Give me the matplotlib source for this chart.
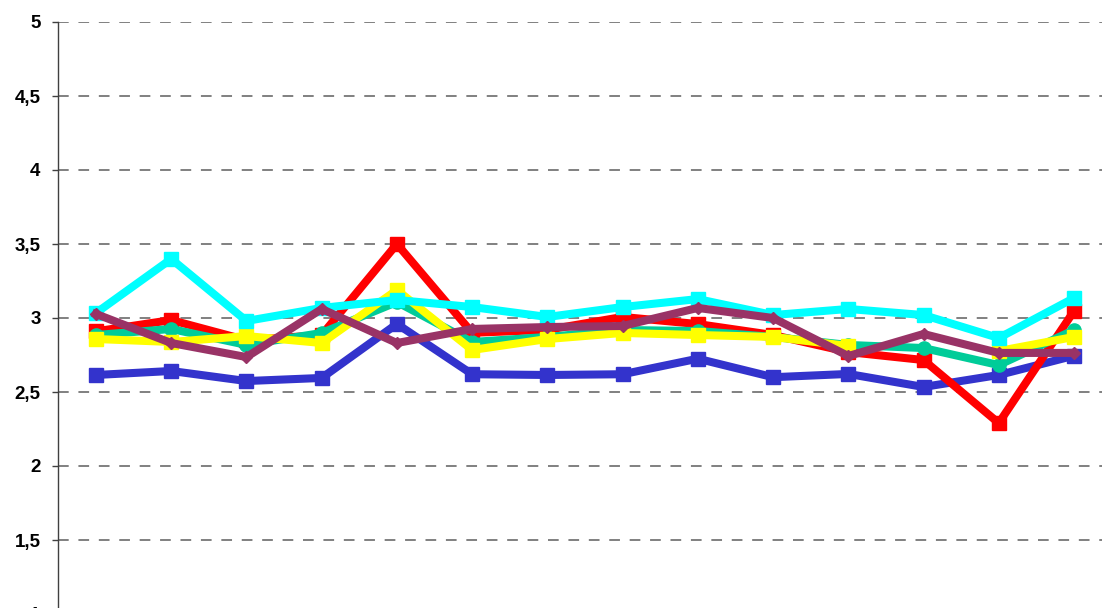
import numpy as np
import matplotlib
matplotlib.use("Agg")
import matplotlib.pyplot as plt

plt.rcParams['font.family'] = ['Liberation Sans', 'DejaVu Sans']

categories = list(range(14))
blue = [2.615, 2.642, 2.574, 2.595, 2.96, 2.62, 2.615, 2.62, 2.725, 2.6, 2.622, 2.534, 2.615, 2.745]
red = [2.91, 2.986, 2.85, 2.885, 3.5, 2.9, 2.92, 3.007, 2.959, 2.885, 2.77, 2.716, 2.29, 3.047]
green = [2.885, 2.926, 2.818, 2.899, 3.108, 2.838, 2.872, 2.919, 2.912, 2.872, 2.818, 2.797, 2.682, 2.919]
yellow = [2.858, 2.838, 2.878, 2.831, 3.189, 2.784, 2.858, 2.899, 2.885, 2.872, 2.811, np.nan, 2.777, 2.872]
cyan = [3.034, 3.399, 2.98, 3.068, 3.122, 3.074, 3.007, 3.074, 3.128, 3.02, 3.061, 3.02, 2.865, 3.135]
purple = [3.027, 2.831, 2.736, 3.061, 2.831, 2.926, 2.939, 2.946, 3.068, 3.0, 2.743, 2.892, 2.764, 2.764]

yticks = [1, 1.5, 2, 2.5, 3, 3.5, 4, 4.5, 5]
ytick_labels = ["1", "1,5", "2", "2,5", "3", "3,5", "4", "4,5", "5"]

fig = plt.figure(figsize=(11.02, 6.08), dpi=100)
W, H = 1102, 608
left_px, right_px = 58.4, 1111.6
top_px, bot_px = 22, 614
ax = fig.add_axes([left_px / W, (H - bot_px) / H, (right_px - left_px) / W, (bot_px - top_px) / H])

series = [
    (blue, '#3333CC', 's', 10),
    (red, '#FF0000', 's', 10),
    (green, '#00CC99', 'o', 9.5),
    (yellow, '#FFFF00', 's', 10),
    (cyan, '#00FFFF', 's', 10),
    (purple, '#993366', 'D', 6.5),
]
for vals, col, mk, ms in series:
    ax.plot(categories, vals, color=col, lw=5.8, marker=mk, markersize=ms,
            markerfacecolor=col, markeredgecolor=col, solid_joinstyle='miter', clip_on=False)

ax.set_xlim(-0.5, 13.5)
ax.set_ylim(1, 5)
ax.set_yticks(yticks)
ax.set_yticklabels(ytick_labels, fontsize=13.5, fontweight='bold')
ax.set_xticks([])
ax.yaxis.grid(True, linestyle=(0, (5.5, 5)), color='#808080', lw=1.4)
ax.set_axisbelow(True)
for s in ['top', 'right', 'bottom']:
    ax.spines[s].set_visible(False)
ax.spines['left'].set_color('#404040')
ax.spines['left'].set_linewidth(1.0)
ax.tick_params(axis='y', length=4.3, width=1.0, color='#404040', pad=8.5)

fig.savefig('out.png', dpi=100)
